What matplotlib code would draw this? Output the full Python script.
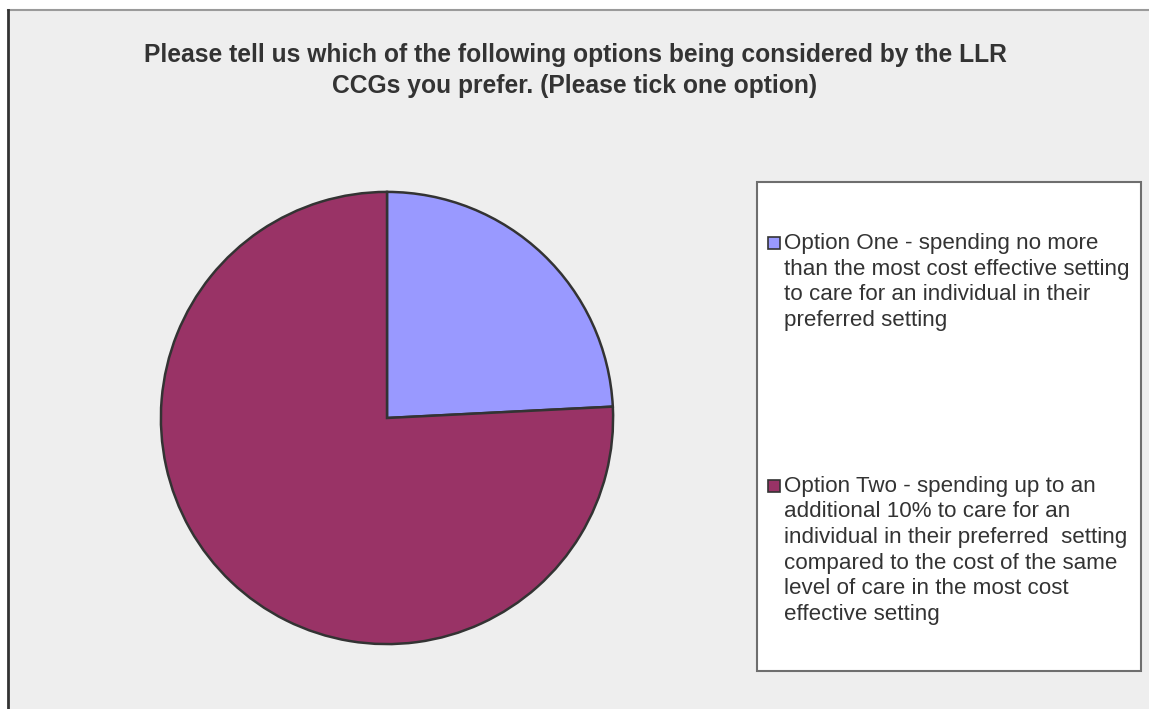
import matplotlib.pyplot as plt
import matplotlib.patches as mpatches

plt.rcParams["font.family"] = ["Liberation Sans", "DejaVu Sans"]

# survey responses (share of respondents, %)
options = [
    "Option One - spending no more\nthan the most cost effective setting\nto care for an individual in their\npreferred setting",
    "Option Two - spending up to an\nadditional 10% to care for an\nindividual in their preferred  setting\ncompared to the cost of the same\nlevel of care in the most cost\neffective setting",
]
shares = [24.2, 75.8]
colors = ["#9999FF", "#993366"]

title = ("Please tell us which of the following options being considered by the LLR\n"
         "CCGs you prefer. (Please tick one option)")

W, H = 1149, 709
fig = plt.figure(figsize=(W / 100, H / 100), dpi=100)
fig.patch.set_facecolor("white")

def fx(px):
    return px / W

def fy(py):
    return 1 - py / H

# chart area background with border on top/left
bg = mpatches.Rectangle((fx(8), 0), 1 - fx(8), fy(10), transform=fig.transFigure,
                        facecolor="#EEEEEE", edgecolor="none", zorder=-5)
fig.patches.append(bg)
fig.add_artist(plt.Line2D([fx(8), 1], [fy(10), fy(10)], color="#9A9A9A", lw=1.5,
                          transform=fig.transFigure, zorder=-4))
fig.add_artist(plt.Line2D([fx(8), fx(8)], [0, fy(10)], color="#333333", lw=2,
                          transform=fig.transFigure, zorder=-4))

# multi-line text is anchored on the baseline of its last line
fig.text(fx(575), fy(93), title, ha="center", va="baseline", fontsize=17.7,
         fontweight="bold", color="#333333", linespacing=1.39)

# pie
cx, cy, r = 387, 418, 227
ax = fig.add_axes([fx(cx - r), fy(cy + r), fx(2 * r), (2 * r) / H])
wedges, _ = ax.pie(shares, colors=colors, startangle=90, counterclock=False,
                   wedgeprops=dict(edgecolor="#333333", linewidth=1.8))
ax.set_xlim(-1.004, 1.004)
ax.set_ylim(-1.004, 1.004)
ax.set_aspect("equal")
ax.axis("off")

# legend box
lx0, ly0, lx1, ly1 = 757, 182, 1141, 671
frame = mpatches.Rectangle((fx(lx0), fy(ly1)), fx(lx1 - lx0), (ly1 - ly0) / H,
                           transform=fig.transFigure, facecolor="white",
                           edgecolor="#6E6E6E", lw=1.5, zorder=1)
fig.patches.append(frame)

square_tops = [237, 480]
last_baselines = [326, 620]
for w, label, top, base in zip(wedges, options, square_tops, last_baselines):
    sq = mpatches.Rectangle((fx(768), fy(top + 12)), fx(12), 12 / H,
                            transform=fig.transFigure, facecolor=w.get_facecolor(),
                            edgecolor="#333333", lw=1.2, zorder=2)
    fig.patches.append(sq)
    fig.text(fx(784), fy(base), label, ha="left", va="baseline",
             fontsize=16.1, color="#333333", linespacing=1.29, zorder=3)

fig.savefig("out.png", dpi=100)
